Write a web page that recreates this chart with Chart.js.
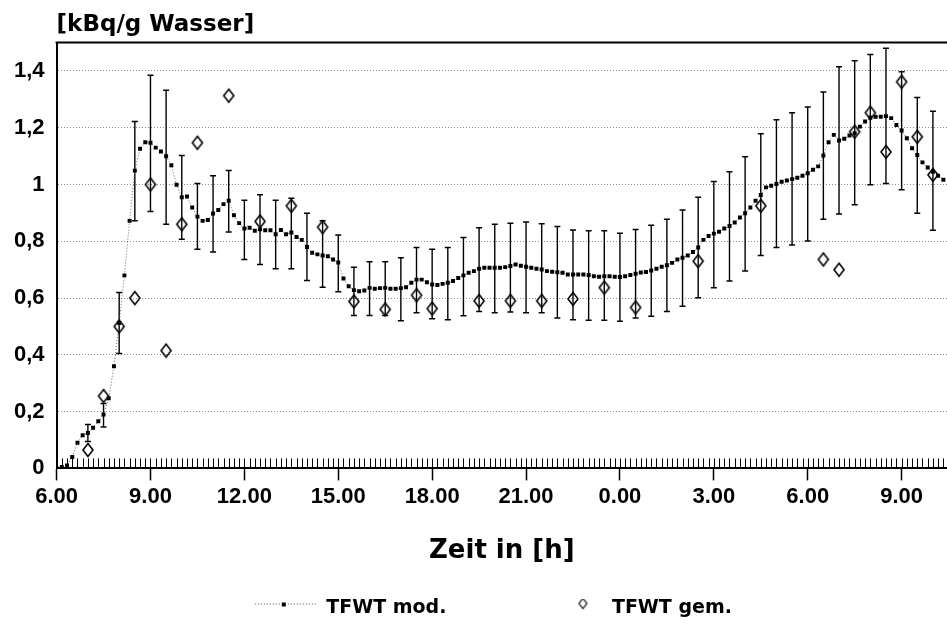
<!DOCTYPE html>
<html>
<head>
<meta charset="utf-8">
<script src="https://cdn.jsdelivr.net/npm/chart.js@4.4.1/dist/chart.umd.min.js"></script>
<style>
  body { margin: 0; background: #fff; }
  canvas { display: block; }
</style>
</head>
<body>
<canvas id="chart" width="947" height="630"></canvas>
<script>
// hours after 6.00, model every 10 min
var modelStep = 1 / 6;
var modelValues = [
    0, 0.005, 0.01, 0.04, 0.09, 0.117, 0.125, 0.143, 0.166, 0.19, 0.247, 0.36,
    0.512, 0.68, 0.872, 1.049, 1.126, 1.149, 1.147, 1.13, 1.116, 1.1, 1.068, 0.999,
    0.955, 0.958, 0.919, 0.887, 0.872, 0.875, 0.898, 0.91, 0.931, 0.943, 0.892, 0.864,
    0.845, 0.848, 0.837, 0.842, 0.839, 0.839, 0.825, 0.84, 0.825, 0.831, 0.815, 0.805,
    0.78, 0.76, 0.754, 0.75, 0.747, 0.736, 0.725, 0.669, 0.642, 0.628, 0.624, 0.627,
    0.636, 0.633, 0.635, 0.636, 0.633, 0.633, 0.635, 0.638, 0.654, 0.665, 0.665, 0.656,
    0.648, 0.646, 0.65, 0.654, 0.66, 0.671, 0.68, 0.689, 0.695, 0.703, 0.707, 0.707,
    0.707, 0.707, 0.709, 0.713, 0.718, 0.714, 0.71, 0.707, 0.703, 0.701, 0.695, 0.693,
    0.691, 0.689, 0.683, 0.683, 0.683, 0.683, 0.681, 0.677, 0.675, 0.677, 0.677, 0.675,
    0.674, 0.677, 0.681, 0.686, 0.69, 0.692, 0.697, 0.703, 0.71, 0.716, 0.724, 0.736,
    0.742, 0.75, 0.762, 0.778, 0.805, 0.819, 0.827, 0.834, 0.845, 0.854, 0.866, 0.884,
    0.899, 0.919, 0.943, 0.963, 0.99, 0.996, 1.002, 1.01, 1.014, 1.019, 1.024, 1.031,
    1.04, 1.052, 1.064, 1.102, 1.149, 1.175, 1.155, 1.161, 1.173, 1.181, 1.204, 1.222,
    1.235, 1.239, 1.239, 1.241, 1.234, 1.21, 1.19, 1.163, 1.128, 1.104, 1.078, 1.06,
    1.045, 1.031, 1.017
];

var errTimes = [
    1, 1.5, 2, 2.5, 3, 3.5, 4, 4.5, 5, 5.5, 6, 6.5, 7, 7.5, 8, 8.5, 9, 9.5, 10,
    10.5, 11, 11.5, 12, 12.5, 13, 13.5, 14, 14.5, 15, 15.5, 16, 16.5, 17, 17.5, 18,
    18.5, 19, 19.5, 20, 20.5, 21, 21.5, 22, 22.5, 23, 23.5, 24, 24.5, 25, 25.5, 26,
    26.5, 27, 27.5, 28
];
var errHigh = [
    0.155, 0.229, 0.62, 1.222, 1.385, 1.332, 1.102, 1.004, 1.031, 1.049, 0.945, 0.964,
    0.945, 0.952, 0.899, 0.872, 0.822, 0.709, 0.728, 0.728, 0.742, 0.778, 0.772, 0.778,
    0.813, 0.848, 0.86, 0.864, 0.868, 0.862, 0.852, 0.84, 0.837, 0.837, 0.828, 0.842,
    0.857, 0.878, 0.91, 0.955, 1.011, 1.045, 1.098, 1.179, 1.228, 1.253, 1.273, 1.326,
    1.415, 1.436, 1.458, 1.48, 1.397, 1.307, 1.258
];
var errLow = [
    0.095, 0.146, 0.405, 0.872, 0.905, 0.86, 0.807, 0.772, 0.762, 0.833, 0.736, 0.718,
    0.703, 0.703, 0.662, 0.638, 0.622, 0.539, 0.539, 0.539, 0.52, 0.548, 0.527, 0.524,
    0.538, 0.553, 0.548, 0.551, 0.548, 0.548, 0.53, 0.524, 0.522, 0.522, 0.518, 0.53,
    0.536, 0.553, 0.571, 0.601, 0.636, 0.66, 0.695, 0.75, 0.778, 0.787, 0.801, 0.878,
    0.896, 0.929, 0.999, 1.004, 0.982, 0.899, 0.839
];

var measTimes = [
    1, 1.5, 2, 2.5, 3, 3.5, 4, 4.5, 5.5, 6.5, 7.5, 8.5, 9.5, 10.5, 11.5, 12,
    13.5, 14.5, 15.5, 16.5, 17.5, 18.5, 20.5, 22.5, 24.5, 25, 25.5, 26, 26.5, 27, 27.5, 28
];
var measValues = [
    0.065, 0.255, 0.5, 0.6, 1.0, 0.415, 0.86, 1.147, 1.313, 0.87, 0.925, 0.85, 0.588, 0.56, 0.61, 0.563,
    0.59, 0.59, 0.59, 0.597, 0.637, 0.567, 0.73, 0.925, 0.736, 0.7, 1.186, 1.253, 1.115, 1.362, 1.168, 1.034
];

var xTickValues = [0, 3, 6, 9, 12, 15, 18, 21, 24, 27];
var xTickLabels = ['6.00', '9.00', '12.00', '15.00', '18.00', '21.00', '0.00', '3.00', '6.00', '9.00'];
var yTickValues = [0, 0.2, 0.4, 0.6, 0.8, 1, 1.2, 1.4];
var yTickLabels = ['0', '0,2', '0,4', '0,6', '0,8', '1', '1,2', '1,4'];

var tickFont = {family: 'Liberation Sans', weight: 'bold', size: 22};
var textFont = 'DejaVu Sans';

// open diamond for the measured points
function diamond(w, h, cx, cy, hw, hh, lw) {
    var c = document.createElement('canvas');
    c.width = w; c.height = h;
    var g = c.getContext('2d');
    g.strokeStyle = '#000';
    g.lineWidth = lw;
    g.beginPath();
    g.moveTo(cx, cy - hh);
    g.lineTo(cx + hw, cy);
    g.lineTo(cx, cy + hh);
    g.lineTo(cx - hw, cy);
    g.closePath();
    g.stroke();
    return c;
}
var gemPoint = diamond(14, 18, 7, 9, 5, 6.5, 1.6);

// legend symbols (wide boxes so that the two entries sit apart)
var legendBox = 146;
var modIcon = document.createElement('canvas');
modIcon.width = legendBox; modIcon.height = 20;
(function() {
    var g = modIcon.getContext('2d');
    g.strokeStyle = '#555';
    g.lineWidth = 1;
    g.setLineDash([1, 2]);
    g.beginPath();
    g.moveTo(84, 5.5);
    g.lineTo(145, 5.5);
    g.stroke();
    g.fillStyle = '#000';
    g.fillRect(111, 4, 4, 4);
})();
var gemIcon = diamond(legendBox, 20, 126.5, 5, 4, 5, 1.2);

var axisDecor = {
    id: 'axisDecor',
    afterDraw: function(chart) {
        var ctx = chart.ctx, area = chart.chartArea, x = chart.scales.x;
        ctx.save();
        ctx.strokeStyle = '#000';
        ctx.lineWidth = 2;
        ctx.beginPath();
        ctx.moveTo(area.left - 1, area.top);
        ctx.lineTo(area.right, area.top);
        ctx.stroke();
        // 10 min ticks pointing up from the time axis
        ctx.lineWidth = 1;
        ctx.beginPath();
        for (var k = 0; k * modelStep <= x.max; k++) {
            var px = Math.round(x.getPixelForValue(k * modelStep)) + 0.5;
            ctx.moveTo(px, area.bottom);
            ctx.lineTo(px, area.bottom - 10);
        }
        ctx.stroke();
        ctx.restore();
    }
};

new Chart(document.getElementById('chart'), {
    type: 'scatter',
    data: {
        datasets: [{
            label: 'TFWT gem.',
            data: measTimes.map(function(t, i) { return {x: t, y: measValues[i]}; }),
            pointStyle: gemPoint,
            showLine: false
        }, {
            label: 'TFWT mod.',
            data: modelValues.map(function(v, i) { return {x: i * modelStep, y: v}; }),
            showLine: true,
            borderColor: '#666',
            borderWidth: 1,
            borderDash: [1, 2],
            pointStyle: 'rect',
            pointRadius: 2.8,
            pointBackgroundColor: '#000',
            pointBorderColor: '#000',
            pointBorderWidth: 0
        }, {
            label: 'error',
            data: errTimes.flatMap(function(t, i) {
                return [{x: t, y: errLow[i]}, {x: t, y: errHigh[i]}, {x: t, y: null}];
            }),
            showLine: true,
            spanGaps: false,
            borderColor: '#000',
            borderWidth: 1.4,
            pointStyle: 'line',
            pointRadius: 3,
            pointBorderWidth: 1.5,
            pointBorderColor: '#000'
        }]
    },
    options: {
        responsive: false,
        animation: false,
        devicePixelRatio: 1,
        events: [],
        layout: {autoPadding: false, padding: {top: 11, left: 2, right: 0, bottom: 2}},
        scales: {
            x: {
                type: 'linear',
                min: 0,
                max: 28.45,
                afterBuildTicks: function(s) {
                    s.ticks = xTickValues.map(function(v) { return {value: v}; });
                },
                ticks: {
                    callback: function(v, i) { return xTickLabels[i]; },
                    font: tickFont,
                    color: '#000',
                    padding: 3,
                    maxRotation: 0,
                    autoSkip: false
                },
                grid: {
                    drawOnChartArea: false,
                    drawTicks: true,
                    tickLength: 12,
                    tickWidth: 1.5,
                    tickColor: '#000'
                },
                border: {color: '#000', width: 2},
                title: {
                    display: true,
                    text: 'Zeit in [h]',
                    font: {family: textFont, weight: 'bold', size: 26},
                    color: '#000',
                    padding: {top: 23, bottom: 22}
                }
            },
            y: {
                min: 0,
                max: 1.5,
                afterBuildTicks: function(s) {
                    s.ticks = yTickValues.map(function(v) { return {value: v}; });
                },
                ticks: {
                    callback: function(v, i) { return yTickLabels[i]; },
                    font: tickFont,
                    color: '#000',
                    padding: 12
                },
                grid: {
                    drawTicks: false,
                    lineWidth: 1,
                    color: function(c) {
                        return c.tick && c.tick.value === 0 ? 'rgba(0,0,0,0)' : '#8a8a8a';
                    }
                },
                border: {color: '#000', width: 2, dash: [1, 2]}
            }
        },
        plugins: {
            title: {
                display: true,
                text: '[kBq/g Wasser]',
                align: 'start',
                fullSize: false,
                color: '#000',
                font: {family: textFont, weight: 'bold', size: 23},
                padding: {top: 0, bottom: 4}
            },
            legend: {
                position: 'bottom',
                labels: {
                    usePointStyle: true,
                    pointStyleWidth: legendBox,
                    padding: 10,
                    color: '#000',
                    font: {family: textFont, weight: 'bold', size: 19},
                    generateLabels: function() {
                        return [
                            {text: 'TFWT mod.', pointStyle: modIcon, datasetIndex: 1, hidden: false, lineWidth: 0},
                            {text: 'TFWT gem.       ', pointStyle: gemIcon, datasetIndex: 0, hidden: false, lineWidth: 0}
                        ];
                    }
                }
            },
            tooltip: {enabled: false}
        }
    },
    plugins: [axisDecor]
});
</script>
</body>
</html>
